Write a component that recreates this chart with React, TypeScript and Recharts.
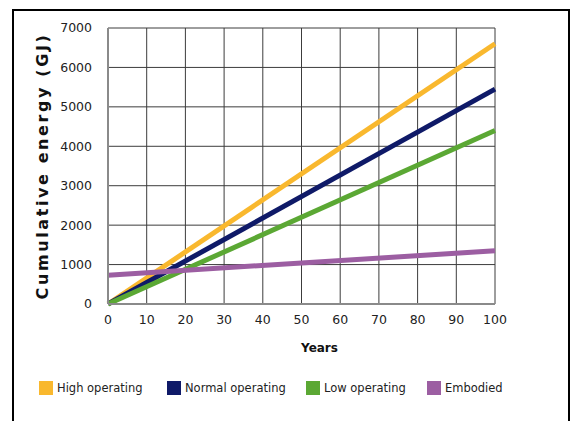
import React from "react";
import { LineChart, Line, XAxis, YAxis, CartesianGrid, Legend } from "recharts";

const years = [0, 100];
const highOperating = [0, 6600];
const normalOperating = [0, 5450];
const lowOperating = [0, 4400];
const embodied = [730, 1350];

const xTicks = [0, 10, 20, 30, 40, 50, 60, 70, 80, 90, 100];
const yTicks = [0, 1000, 2000, 3000, 4000, 5000, 6000, 7000];

const seriesNames = ["High operating", "Normal operating", "Low operating", "Embodied"];
const seriesKeys = ["high", "normal", "low", "embodied"];
const seriesColors = ["#F9B82E", "#0F1A68", "#5BA834", "#9C5EA2"];

const data = years.map((y, i) => ({
  year: y,
  high: highOperating[i],
  normal: normalOperating[i],
  low: lowOperating[i],
  embodied: embodied[i],
}));

const FONT = "'DejaVu Sans', Verdana, sans-serif";
const LEGEND_X = [27, 155, 294, 415];

const renderLegend = () => (
  <div style={{ position: "relative", width: 520, height: 16 }}>
    {seriesNames.map((name, i) => (
      <div
        key={name}
        style={{
          position: "absolute",
          left: LEGEND_X[i],
          top: 0,
          display: "flex",
          alignItems: "center",
          whiteSpace: "nowrap",
        }}
      >
        <span
          style={{
            display: "inline-block",
            width: 14,
            height: 14,
            background: seriesColors[i],
            marginRight: 4,
          }}
        />
        <span style={{ fontFamily: FONT, fontSize: 11.5, color: "#222" }}>{name}</span>
      </div>
    ))}
  </div>
);

const YLabel = (props: any) => {
  const vb = props.viewBox || {};
  const cx = 42;
  const cy = (vb.y || 28) + (vb.height || 276) / 2;
  return (
    <text
      x={cx}
      y={cy}
      transform={`rotate(-90, ${cx}, ${cy})`}
      textAnchor="middle"
      dominantBaseline="central"
      fontFamily={FONT}
      fontWeight="bold"
      fontSize={16}
      letterSpacing={2.6}
      fill="#111"
    >
      Cumulative energy (GJ)
    </text>
  );
};

export default function App() {
  return (
    <div
      style={{
        position: "absolute",
        left: 0,
        top: 0,
        width: 571,
        height: 421,
        overflow: "hidden",
        background: "#fff",
      }}
    >
      <div
        style={{
          position: "absolute",
          left: 12,
          top: 9,
          width: 558,
          height: 430,
          border: "2.5px solid #000",
          boxSizing: "border-box",
        }}
      />
      <div style={{ position: "absolute", left: 0, top: 0 }}>
        <LineChart
          width={571}
          height={421}
          data={data}
          margin={{ top: 28, right: 76, bottom: 57, left: 28 }}
        >
          <CartesianGrid stroke="#3c3c3c" strokeWidth={1} />
          <XAxis
            dataKey="year"
            type="number"
            domain={[0, 100]}
            ticks={xTicks}
            interval={0}
            height={60}
            stroke="#8a8a8a"
            strokeWidth={2}
            tickLine={false}
            tickSize={0}
            tickMargin={11}
            tick={{ fontFamily: FONT, fontSize: 12.5, fill: "#222" }}
            label={{
              value: "Years",
              position: "insideBottom",
              offset: 12,
              dx: 18,
              style: { fontFamily: FONT, fontWeight: "bold", fontSize: 12, fill: "#111" },
            }}
          />
          <YAxis
            type="number"
            domain={[0, 7000]}
            ticks={yTicks}
            interval={0}
            width={80}
            stroke="#8a8a8a"
            strokeWidth={2}
            tickLine={false}
            tickSize={0}
            tickMargin={16}
            tick={{ fontFamily: FONT, fontSize: 12.5, fill: "#222" }}
            label={<YLabel />}
          />
          <Legend
            layout="horizontal"
            verticalAlign="middle"
            align="center"
            content={renderLegend}
            wrapperStyle={{ position: "absolute", left: 12, top: 381, width: 540, height: 16 }}
          />
          {seriesKeys.map((k, i) => (
            <Line
              key={k}
              type="linear"
              dataKey={k}
              name={seriesNames[i]}
              stroke={seriesColors[i]}
              strokeWidth={5}
              dot={false}
              activeDot={false}
              isAnimationActive={false}
            />
          ))}
        </LineChart>
      </div>
    </div>
  );
}
